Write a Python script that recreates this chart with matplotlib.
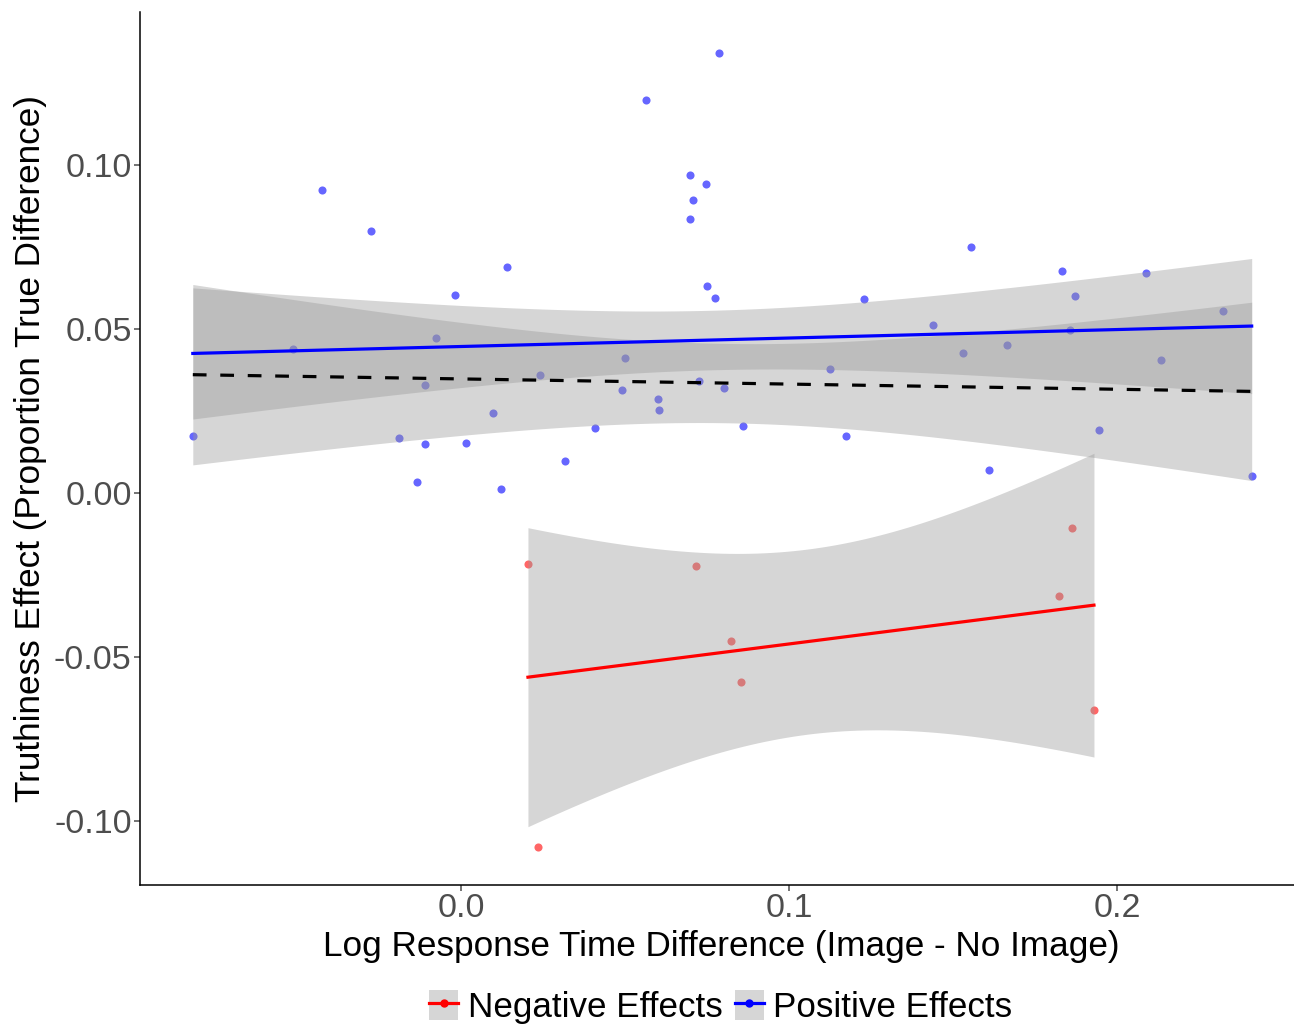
import numpy as np
import matplotlib.pyplot as plt
from matplotlib.lines import Line2D
from matplotlib.patches import Patch

plt.rcParams["font.family"] = ["Liberation Sans", "DejaVu Sans"]

# positive effects (blue points)
pos_x = [-0.0818, -0.0512, -0.0423, -0.0274, -0.0188, -0.0134, -0.0109, -0.0110,
         -0.0075, -0.0018, 0.0015, 0.0098, 0.0121, 0.0141, 0.0242, 0.0318,
         0.0409, 0.0491, 0.0501, 0.0565, 0.0602, 0.0604, 0.0698, 0.0699,
         0.0706, 0.0727, 0.0746, 0.0750, 0.0774, 0.0788, 0.0801, 0.0861,
         0.1125, 0.1173, 0.1228, 0.1439, 0.1531, 0.1554, 0.1609, 0.1665,
         0.1833, 0.1857, 0.1873, 0.1944, 0.2089, 0.2135, 0.2324, 0.2411]
pos_y = [0.0173, 0.0440, 0.0922, 0.0798, 0.0167, 0.0034, 0.0330, 0.0148,
         0.0473, 0.0603, 0.0152, 0.0245, 0.0013, 0.0688, 0.0360, 0.0098,
         0.0199, 0.0314, 0.0411, 0.1198, 0.0287, 0.0252, 0.0970, 0.0836,
         0.0894, 0.0342, 0.0942, 0.0630, 0.0594, 0.1342, 0.0319, 0.0204,
         0.0377, 0.0173, 0.0591, 0.0513, 0.0427, 0.0749, 0.0071, 0.0450,
         0.0677, 0.0497, 0.0600, 0.0193, 0.0672, 0.0406, 0.0555, 0.0051]

# negative effects (red points)
neg_x = [0.0204, 0.0236, 0.0716, 0.0824, 0.0854, 0.1822, 0.1863, 0.1930]
neg_y = [-0.0216, -0.1078, -0.0223, -0.0450, -0.0575, -0.0314, -0.0107, -0.0662]

x_ticks = [0.0, 0.1, 0.2]
y_ticks = [-0.10, -0.05, 0.00, 0.05, 0.10]


def t975(df):
    # Cornish-Fisher expansion of the t quantile
    z = 1.959964
    return (z + (z**3 + z) / (4 * df)
            + (5 * z**5 + 16 * z**3 + 3 * z) / (96 * df**2)
            + (3 * z**7 + 19 * z**5 + 17 * z**3 - 15 * z) / (384 * df**3))


def lm_band(x, y, n_grid=80):
    x = np.asarray(x)
    y = np.asarray(y)
    n = len(x)
    b, a = np.polyfit(x, y, 1)
    resid = y - (a + b * x)
    s = np.sqrt(np.sum(resid**2) / (n - 2))
    xm = x.mean()
    sxx = np.sum((x - xm) ** 2)
    xs = np.linspace(x.min(), x.max(), n_grid)
    fit = a + b * xs
    se = s * np.sqrt(1 / n + (xs - xm) ** 2 / sxx)
    t = t975(n - 2)
    return xs, fit, fit - t * se, fit + t * se


fig, ax = plt.subplots(figsize=(12.94, 10.28), dpi=100)
fig.subplots_adjust(left=0.1082, right=1.0, bottom=0.1391, top=0.9883)

ax.scatter(neg_x, neg_y, s=34, color="#FF0000", alpha=0.6, linewidths=0, zorder=1)
ax.scatter(pos_x, pos_y, s=34, color="#0000FF", alpha=0.6, linewidths=0, zorder=1)

all_x = pos_x + neg_x
all_y = pos_y + neg_y
band = "#999999"
for xs_, ys_, col, ls in [(neg_x, neg_y, "#FF0000", "-"),
                           (pos_x, pos_y, "#0000FF", "-"),
                           (all_x, all_y, "black", "--")]:
    xs, fit, lo, hi = lm_band(xs_, ys_)
    ax.fill_between(xs, lo, hi, color=band, alpha=0.4, linewidth=0, zorder=2)
    line, = ax.plot(xs, fit, color=col, lw=2.3, zorder=3)
    if ls == "--":
        line.set_dashes((4.3, 4.3))

ax.set_xlim(-0.0979, 0.254)
ax.set_ylim(-0.1195, 0.1466)
ax.set_xticks(x_ticks)
ax.set_xticklabels(["0.0", "0.1", "0.2"])
ax.set_yticks(y_ticks)
ax.set_yticklabels(["-0.10", "-0.05", "0.00", "0.05", "0.10"])
ax.tick_params(labelsize=24.5, colors="#4D4D4D", length=4, width=1.1, pad=2)
for side in ["top", "right"]:
    ax.spines[side].set_visible(False)
for side in ["left", "bottom"]:
    ax.spines[side].set_linewidth(1.1)
    ax.spines[side].set_color("black")

ax.set_xlabel("Log Response Time Difference (Image - No Image)", fontsize=25.3, labelpad=3)
ax.xaxis.set_label_coords(0.504, -0.052)
ax.set_ylabel("Truthiness Effect (Proportion True Difference)", fontsize=25.3, labelpad=5)

handles = [
    (Patch(facecolor="#D6D6D6", edgecolor="none"),
     Line2D([], [], color="#FF0000", lw=2.3, marker="o", markersize=5)),
    (Patch(facecolor="#D6D6D6", edgecolor="none"),
     Line2D([], [], color="#0000FF", lw=2.3, marker="o", markersize=5)),
]
fig.legend(handles, ["Negative Effects", "Positive Effects"], loc="center",
           bbox_to_anchor=(0.557, 0.0205), ncol=2, frameon=False, fontsize=25.2,
           handlelength=0.83, handleheight=0.94, handletextpad=0.28,
           columnspacing=0.34, borderaxespad=0)

fig.savefig("out.png", dpi=100)
